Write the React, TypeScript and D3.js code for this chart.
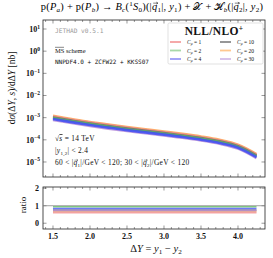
import { useEffect, useRef } from "react";
import * as d3 from "d3";

const deltaY = [1.5, 1.75, 2.0, 2.25, 2.5, 2.75, 3.0, 3.25, 3.5, 3.75, 4.0, 4.25];

const seriesNames = ["1", "2", "4", "10", "20", "30"];
const seriesColors = ["#f08a8a", "#5cb85c", "#3d4df5", "#6e6e6e", "#ffa64d", "#b48ad8"];
const legendColors = ["#f4a0a0", "#a8d8a8", "#9a9af5", "#8c8c8c", "#ffc890", "#d4bde8"];

// dσ/dΔY [nb], central values
const xsC1 = [1.12e-3, 8.1e-4, 6.0e-4, 4.6e-4, 3.5e-4, 2.78e-4, 2.2e-4, 1.73e-4, 1.31e-4, 9.2e-5, 5.6e-5, 2.1e-5];
const xsC2 = [9.55e-4, 6.9e-4, 5.1e-4, 3.9e-4, 3.0e-4, 2.37e-4, 1.88e-4, 1.48e-4, 1.12e-4, 7.9e-5, 4.8e-5, 1.8e-5];
const xsC4 = [8.7e-4, 6.3e-4, 4.65e-4, 3.55e-4, 2.73e-4, 2.16e-4, 1.71e-4, 1.35e-4, 1.02e-4, 7.2e-5, 4.4e-5, 1.64e-5];
const xsC10 = [1.02e-3, 7.4e-4, 5.45e-4, 4.17e-4, 3.2e-4, 2.54e-4, 2.01e-4, 1.58e-4, 1.2e-4, 8.5e-5, 5.1e-5, 1.93e-5];
const xsC20 = [1.2e-3, 8.7e-4, 6.4e-4, 4.9e-4, 3.78e-4, 2.99e-4, 2.37e-4, 1.86e-4, 1.41e-4, 1.0e-4, 6.0e-5, 2.27e-5];
const xsC30 = [7.9e-4, 5.7e-4, 4.2e-4, 3.2e-4, 2.49e-4, 1.97e-4, 1.56e-4, 1.23e-4, 9.3e-5, 6.6e-5, 4.0e-5, 1.5e-5];

// ratio panel
const ratioC1 = [0.6, 0.6, 0.6, 0.6, 0.6, 0.6, 0.6, 0.6, 0.6, 0.6, 0.6, 0.6];
const ratioC2 = [0.94, 0.94, 0.94, 0.94, 0.94, 0.94, 0.94, 0.94, 0.94, 0.94, 0.94, 0.94];
const ratioC4 = [0.84, 0.84, 0.84, 0.84, 0.84, 0.84, 0.84, 0.84, 0.84, 0.84, 0.84, 0.84];
const ratioC10 = [0.76, 0.76, 0.76, 0.76, 0.76, 0.76, 0.76, 0.76, 0.76, 0.76, 0.76, 0.76];
const ratioC20 = [0.68, 0.68, 0.68, 0.68, 0.68, 0.68, 0.68, 0.68, 0.68, 0.68, 0.68, 0.68];
const ratioC30 = [0.72, 0.72, 0.72, 0.72, 0.72, 0.72, 0.72, 0.72, 0.72, 0.72, 0.72, 0.72];

const xTicks = [1.5, 2.0, 2.5, 3.0, 3.5, 4.0];
const yExponents = [1, 0, -1, -2, -3, -4, -5];
const ratioTicks = [0, 1, 2];

const FONT = "Liberation Serif, DejaVu Serif, serif";
const MONO = "DejaVu Sans Mono, Liberation Mono, monospace";

type Seg = { t: string; i?: boolean; sub?: boolean; sup?: boolean; vec?: boolean };
type TextSel = d3.Selection<SVGTextElement, unknown, null, undefined>;
type SvgSel = d3.Selection<SVGSVGElement, unknown, null, undefined>;

function rich(text: TextSel, segs: Seg[], fs: number) {
  let off = 0;
  segs.forEach((s) => {
    const target = s.sub ? fs * 0.22 : s.sup ? -fs * 0.38 : 0;
    const ts = text.append("tspan").attr("dy", target - off).text(s.t);
    off = target;
    if (s.sub || s.sup) ts.attr("font-size", fs * 0.68);
    if (s.i) ts.attr("font-style", "italic");
    if (s.vec) ts.attr("class", "vec");
  });
}

// small arrow above every tspan.vec
function vecArrows(svg: SvgSel, text: TextSel, baseline: number, fs: number) {
  text.selectAll<SVGTSpanElement, unknown>("tspan.vec").each(function () {
    const b = this.getBBox();
    const x1 = b.x + fs * 0.12;
    const x2 = b.x + b.width + fs * 0.05;
    const yy = baseline - fs * 0.66;
    svg.append("line").attr("x1", x1).attr("x2", x2).attr("y1", yy).attr("y2", yy).attr("stroke", "#111").attr("stroke-width", fs * 0.05);
    svg.append("path").attr("d", `M${x2 - fs * 0.16},${yy - fs * 0.1}L${x2},${yy}L${x2 - fs * 0.16},${yy + fs * 0.1}`)
      .attr("fill", "none").attr("stroke", "#111").attr("stroke-width", fs * 0.05);
  });
}

export default function App() {
  const svgRef = useRef<SVGSVGElement>(null);

  useEffect(() => {
    if (!svgRef.current) return;
    const svg = d3.select(svgRef.current);
    svg.selectAll("*").remove();

    const left = 43, right = 265;
    const mainTop = 20, mainBottom = 177;
    const ratTop = 187, ratBottom = 229;

    const x = d3.scaleLinear().domain([1.365, 4.365]).range([left, right]);
    const y = d3.scaleLog().domain([2.1e-6, 25.5]).range([mainBottom, mainTop]);
    const yr = d3.scaleLinear().domain([-0.33, 2.07]).range([ratBottom, ratTop]);

    const xsAll = [xsC1, xsC2, xsC4, xsC10, xsC20, xsC30];
    const ratioAll = [ratioC1, ratioC2, ratioC4, ratioC10, ratioC20, ratioC30];
    const drawOrder = [4, 0, 3, 1, 5, 2];

    // title
    const tfs = 10.4;
    const title = svg.append("text").attr("x", 152).attr("y", 10).attr("text-anchor", "middle")
      .attr("font-family", FONT).attr("font-size", tfs).attr("letter-spacing", 0.25).attr("fill", "#000");
    rich(title, [
      { t: "p(" }, { t: "P", i: true }, { t: "a", i: true, sub: true }, { t: ") + p(" },
      { t: "P", i: true }, { t: "b", i: true, sub: true }, { t: ") → " },
      { t: "B", i: true }, { t: "c", i: true, sub: true }, { t: "(" }, { t: "1", sup: true },
      { t: "S", i: true }, { t: "0", sub: true }, { t: ")(|" }, { t: "q", i: true, vec: true },
      { t: "1", sub: true }, { t: "|, " }, { t: "y", i: true }, { t: "1", sub: true },
      { t: ") + " }, { t: "𝒳" }, { t: " + " }, { t: "ℋ" }, { t: "b", i: true, sub: true },
      { t: "(|" }, { t: "q", i: true, vec: true }, { t: "2", sub: true }, { t: "|, " },
      { t: "y", i: true }, { t: "2", sub: true }, { t: ")" },
    ], tfs);
    vecArrows(svg, title, 10, tfs);

    // frames
    [[mainTop, mainBottom], [ratTop, ratBottom]].forEach(([t, b]) => {
      svg.append("rect").attr("x", left).attr("y", t).attr("width", right - left).attr("height", b - t)
        .attr("fill", "none").attr("stroke", "#222").attr("stroke-width", 0.8);
    });

    // x ticks (major + minor) on both panels, top and bottom
    const minorX = d3.range(14, 44).map((v) => v / 10);
    [[mainTop, mainBottom], [ratTop, ratBottom]].forEach(([t, b]) => {
      minorX.forEach((v) => {
        const major = Math.abs(v * 2 - Math.round(v * 2)) < 1e-6;
        const len = major ? 3.5 : 2;
        const px = x(v);
        if (px <= left || px >= right) return;
        svg.append("line").attr("x1", px).attr("x2", px).attr("y1", b).attr("y2", b - len).attr("stroke", "#333").attr("stroke-width", 0.5);
        svg.append("line").attr("x1", px).attr("x2", px).attr("y1", t).attr("y2", t + len).attr("stroke", "#333").attr("stroke-width", 0.5);
      });
    });

    // y log ticks
    yExponents.forEach((e) => {
      const py = y(Math.pow(10, e));
      svg.append("line").attr("x1", left).attr("x2", left + 3.5).attr("y1", py).attr("y2", py).attr("stroke", "#333").attr("stroke-width", 0.5);
      svg.append("line").attr("x1", right).attr("x2", right - 3.5).attr("y1", py).attr("y2", py).attr("stroke", "#333").attr("stroke-width", 0.5);
      const t = svg.append("text").attr("x", 40).attr("y", py + 3).attr("text-anchor", "end")
        .attr("font-family", FONT).attr("font-size", 8).attr("font-weight", "bold").attr("fill", "#111");
      t.append("tspan").text("10");
      t.append("tspan").attr("dy", -3.5).attr("font-size", 5.5).text(e < 0 ? `−${-e}` : `${e}`);
    });

    // ratio ticks
    ratioTicks.forEach((v) => {
      const py = yr(v);
      svg.append("line").attr("x1", left).attr("x2", left + 3.5).attr("y1", py).attr("y2", py).attr("stroke", "#333").attr("stroke-width", 0.5);
      svg.append("line").attr("x1", right).attr("x2", right - 3.5).attr("y1", py).attr("y2", py).attr("stroke", "#333").attr("stroke-width", 0.5);
      svg.append("text").attr("x", 39).attr("y", py + 3).attr("text-anchor", "end")
        .attr("font-family", FONT).attr("font-size", 8).attr("font-weight", "bold").attr("fill", "#111").text(v);
    });

    // x tick labels
    xTicks.forEach((v) => {
      svg.append("text").attr("x", x(v)).attr("y", 239).attr("text-anchor", "middle")
        .attr("font-family", FONT).attr("font-size", 8).attr("font-weight", "bold").attr("fill", "#111").text(v.toFixed(1));
    });

    // axis titles
    const yl = svg.append("text").attr("transform", `translate(15,88) rotate(-90)`)
      .attr("text-anchor", "middle").attr("font-family", FONT).attr("font-size", 9.5).attr("fill", "#111");
    rich(yl, [
      { t: "d" }, { t: "σ", i: true }, { t: "(Δ" }, { t: "Y", i: true }, { t: ", " }, { t: "s", i: true },
      { t: ")/dΔ" }, { t: "Y", i: true }, { t: " [nb]" },
    ], 9.5);

    svg.append("text").attr("transform", `translate(26,205) rotate(-90)`)
      .attr("text-anchor", "middle").attr("font-family", FONT).attr("font-size", 9).attr("fill", "#111").text("ratio");

    const xl = svg.append("text").attr("x", 156).attr("y", 252).attr("text-anchor", "middle")
      .attr("font-family", FONT).attr("font-size", 10.5).attr("fill", "#111");
    rich(xl, [
      { t: "Δ" }, { t: "Y", i: true }, { t: " = " }, { t: "y", i: true }, { t: "1", sub: true },
      { t: " − " }, { t: "y", i: true }, { t: "2", sub: true },
    ], 10.5);

    // main bands
    const line = d3.line<number>().x((_, i) => x(deltaY[i])).y((d) => y(d)).curve(d3.curveCatmullRom);
    drawOrder.forEach((k) => {
      svg.append("path").attr("d", line(xsAll[k])).attr("fill", "none")
        .attr("stroke", seriesColors[k]).attr("stroke-width", 2.6).attr("stroke-opacity", 0.85);
    });

    // ratio lines
    svg.append("line").attr("x1", left).attr("x2", right).attr("y1", yr(1)).attr("y2", yr(1)).attr("stroke", "#888").attr("stroke-width", 0.8);
    const rline = d3.line<number>().x((_, i) => x(deltaY[i])).y((d) => yr(d));
    drawOrder.forEach((k) => {
      svg.append("path").attr("d", rline(ratioAll[k])).attr("fill", "none")
        .attr("stroke", seriesColors[k]).attr("stroke-width", 1.6).attr("stroke-opacity", 0.75);
    });

    // annotations
    svg.append("text").attr("x", 55).attr("y", 33).attr("font-family", MONO).attr("font-size", 6.2).attr("fill", "#999").text("JETHAD v0.5.1");
    svg.append("text").attr("x", 55).attr("y", 53).attr("font-family", FONT).attr("font-size", 6.5).attr("fill", "#111").text("MS scheme");
    svg.append("line").attr("x1", 55).attr("x2", 64).attr("y1", 47.3).attr("y2", 47.3).attr("stroke", "#111").attr("stroke-width", 0.5);
    svg.append("text").attr("x", 55).attr("y", 64).attr("font-family", MONO).attr("font-size", 6).attr("fill", "#111").text("NNPDF4.0 + ZCFW22 + KKSS07");

    const afs = 7.4;
    const rs = svg.append("text").attr("x", 55).attr("y", 141).attr("font-family", FONT).attr("font-size", afs).attr("letter-spacing", 0.3).attr("fill", "#111");
    rs.append("tspan").text("√");
    rs.append("tspan").attr("font-style", "italic").attr("text-decoration", "overline").text("s");
    rs.append("tspan").text(" = 14 TeV");
    const yy = svg.append("text").attr("x", 55).attr("y", 153).attr("font-family", FONT).attr("font-size", afs).attr("letter-spacing", 0.3).attr("fill", "#111");
    rich(yy, [{ t: "|" }, { t: "y", i: true }, { t: "1,2", sub: true }, { t: "|  <  2.4" }], afs);
    const qq = svg.append("text").attr("x", 55).attr("y", 165).attr("font-family", FONT).attr("font-size", afs).attr("letter-spacing", 0.3).attr("fill", "#111");
    rich(qq, [
      { t: "60 < |" }, { t: "q", i: true, vec: true }, { t: "1", sub: true }, { t: "|/GeV < 120;  30 < |" },
      { t: "q", i: true, vec: true }, { t: "2", sub: true }, { t: "|/GeV < 120" },
    ], afs);
    vecArrows(svg, qq, 165, afs);

    // legend
    const lg = svg.append("g");
    lg.append("rect").attr("x", 168).attr("y", 23).attr("width", 95).attr("height", 41).attr("rx", 1.5)
      .attr("fill", "#fff").attr("stroke", "#ccc").attr("stroke-width", 0.6);
    const lt = lg.append("text").attr("x", 214).attr("y", 35).attr("text-anchor", "middle")
      .attr("font-family", FONT).attr("font-size", 11.5).attr("letter-spacing", 0.3).attr("font-weight", "bold").attr("fill", "#111");
    lt.append("tspan").text("NLL/NLO");
    lt.append("tspan").attr("dy", -4.5).attr("font-size", 7.5).text("+");
    seriesNames.forEach((name, i) => {
      const col = Math.floor(i / 3);
      const row = i % 3;
      const lx = 170 + col * 50;
      const ly = 42 + row * 8.5;
      lg.append("line").attr("x1", lx).attr("x2", lx + 11).attr("y1", ly).attr("y2", ly)
        .attr("stroke", legendColors[i]).attr("stroke-width", 1.8);
      const t = lg.append("text").attr("x", lx + 17).attr("y", ly + 2).attr("font-family", FONT).attr("font-size", 5.5).attr("fill", "#111");
      rich(t, [{ t: "C", i: true }, { t: "μ", i: true, sub: true }, { t: ` = ${name}` }], 5.5);
    });
  }, []);

  return <svg ref={svgRef} width={273} height={258} style={{ position: "absolute", left: 0, top: 0, background: "#fff" }} />;
}
